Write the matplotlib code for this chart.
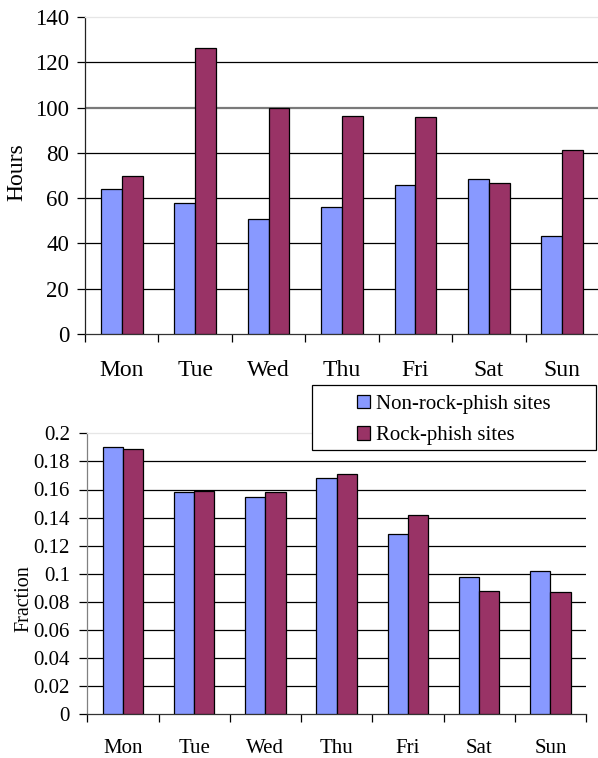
import numpy as np
import matplotlib
matplotlib.use("Agg")
import matplotlib.pyplot as plt
from matplotlib.patches import Rectangle

plt.rcParams['font.family'] = ['Liberation Serif', 'DejaVu Serif']

days = ["Mon", "Tue", "Wed", "Thu", "Fri", "Sat", "Sun"]
series_names = ["Non-rock-phish sites", "Rock-phish sites"]

hours_non_rock = [64, 57.7, 50.8, 56.1, 65.8, 68.3, 43.3]
hours_rock = [70, 126.2, 99.8, 96.4, 95.7, 66.7, 81.4]

frac_non_rock = [0.190, 0.158, 0.155, 0.168, 0.128, 0.098, 0.102]
frac_rock = [0.189, 0.159, 0.158, 0.171, 0.142, 0.088, 0.087]

hours_ticks = [0, 20, 40, 60, 80, 100, 120, 140]
hours_ticklabels = ["0", "20", "40", "60", "80", "100", "120", "140"]
frac_ticks = [0, 0.02, 0.04, 0.06, 0.08, 0.1, 0.12, 0.14, 0.16, 0.18, 0.2]
frac_ticklabels = ["0", "0.02", "0.04", "0.06", "0.08", "0.1", "0.12", "0.14",
                   "0.16", "0.18", "0.2"]

BLUE = "#8899FF"
RED = "#993366"

W, H = 598, 758
fig = plt.figure(figsize=(W / 100, H / 100), dpi=100)


def px_axes(left, top, right, bottom):
    return fig.add_axes([left / W, 1 - bottom / H, (right - left) / W, (bottom - top) / H])


def style_axes(ax, nonrock, rock, yticks, yticklabels, ytop, xfs, yfs, xpad, ypad,
               leftcolor, gray_grid=None):
    x = np.arange(len(days))
    bw = 0.285
    ax.bar(x - bw / 2, nonrock, bw, color=BLUE, edgecolor="black", linewidth=0.9,
           zorder=3, label=series_names[0])
    ax.bar(x + bw / 2, rock, bw, color=RED, edgecolor="black", linewidth=0.9,
           zorder=3, label=series_names[1])
    ax.set_xlim(-0.5, len(days) - 0.5)
    ax.set_ylim(0, ytop)
    for t in yticks[1:-1]:
        if gray_grid is not None and t == gray_grid:
            ax.axhline(t, color="#7a7a7a", linewidth=1.6, zorder=1)
        else:
            ax.axhline(t, color="black", linewidth=0.9, zorder=1)
    ax.set_yticks(yticks)
    ax.set_yticklabels(yticklabels, fontsize=yfs)
    ax.set_xticks(np.arange(-0.5, len(days), 1.0))
    ax.set_xticklabels([""] * (len(days) + 1))
    ax.set_xticks(x, minor=True)
    ax.set_xticklabels(days, minor=True, fontsize=xfs)
    ax.tick_params(axis="x", which="major", length=6, width=0.9, direction="out")
    ax.tick_params(axis="x", which="minor", length=0, pad=xpad)
    ax.tick_params(axis="y", which="major", length=6, width=0.9, direction="out", pad=ypad)
    ax.spines["right"].set_visible(False)
    ax.spines["top"].set_color("#e6e6e6")
    ax.spines["left"].set_color(leftcolor)
    ax.spines["bottom"].set_color("#333333")
    for s in ax.spines.values():
        s.set_linewidth(0.9)
    ax.set_facecolor("white")
    return ax


ax1 = px_axes(85, 17, 599, 334)
style_axes(ax1, hours_non_rock, hours_rock, hours_ticks, hours_ticklabels, 140,
           17, 16.5, 19, 5.5, "#222222", gray_grid=100)
fig.text(17 / W, 1 - 172.5 / H, "Hours", rotation=90, ha="center", va="center", fontsize=17)

ax2 = px_axes(87.3, 433.3, 586, 714.3)
style_axes(ax2, frac_non_rock, frac_rock, frac_ticks, frac_ticklabels, 0.2,
           15, 15, 17.5, 6.5, "#808080")
fig.text(24 / W, 1 - 599 / H, "Fraction", rotation=90, ha="center", va="center", fontsize=14.5)

# legend box
bx0, by0, bx1, by1 = 311.7, 385, 596, 450
fig.patches.append(Rectangle((bx0 / W, 1 - by1 / H), (bx1 - bx0) / W, (by1 - by0) / H,
                             transform=fig.transFigure, facecolor="white",
                             edgecolor="black", linewidth=0.9, zorder=5))
handles, labels = ax2.get_legend_handles_labels()
leg = fig.legend(handles, labels, loc="center",
                 bbox_to_anchor=((bx0 + bx1) / 2 / W, 1 - ((by0 + by1) / 2 + 2.5) / H),
                 frameon=False, fontsize=15, handlelength=0.62, handleheight=0.62,
                 handletextpad=0.25, labelspacing=0.6, borderpad=0)
leg.set_zorder(6)

fig.savefig("out.png", dpi=100, facecolor="white")
